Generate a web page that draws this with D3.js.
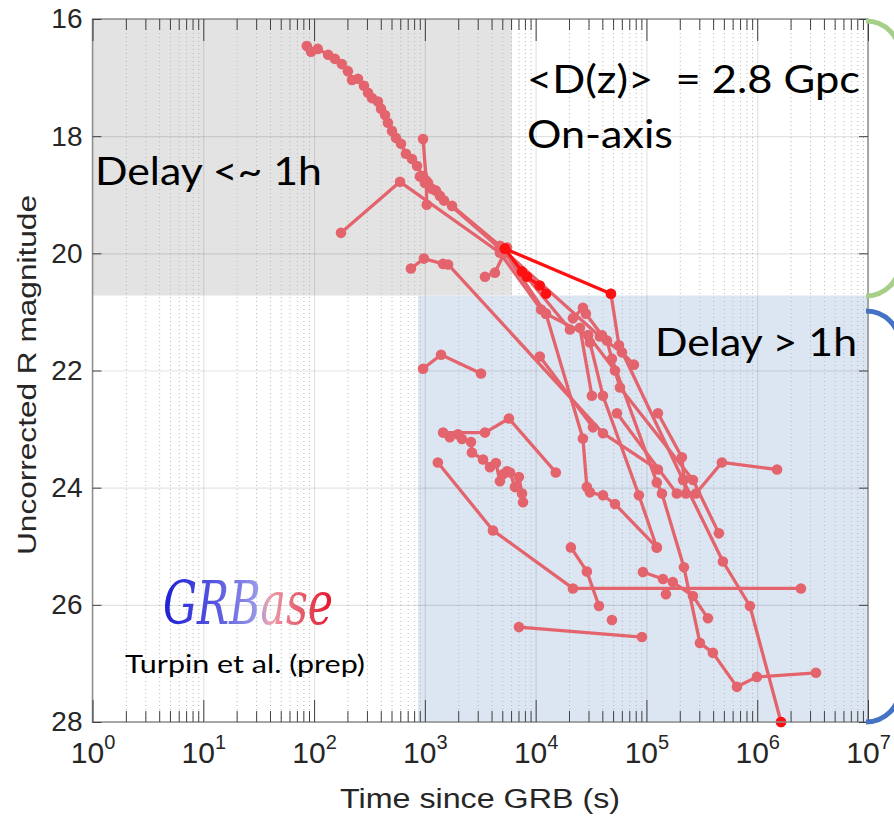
<!DOCTYPE html>
<html><head><meta charset="utf-8">
<script src="https://cdn.jsdelivr.net/npm/d3@7"></script>
<style>body{margin:0;background:#fff}</style>
</head><body><svg id="c" width="894" height="822"></svg>
<script>
// ---------- data ----------
const xTickValues = [1, 10, 100, 1e3, 1e4, 1e5, 1e6, 1e7];
const xTickExponents = ["0", "1", "2", "3", "4", "5", "6", "7"];
const yTickValues = [16, 18, 20, 22, 24, 26, 28];
const earlyRegion = [1, 6100, 16, 20.72];     // t from, t to, mag top, mag bottom
const lateRegion = [866, 1e7, 20.72, 28];

// light curves: [time since GRB (s), uncorrected R mag]
const lcA = [[86,16.46],[94,16.56],[108,16.51],[134,16.61],[154,16.68],[178,16.77],[202,16.89],[220,17.04],[249,17.02],[282,17.14],[307,17.26],[333,17.35],[377,17.41],[402,17.53],[437,17.64],[464,17.77],[505,17.91],[549,18.03],[609,18.13],[675,18.30],[765,18.39],[850,18.51],[963,18.68],[1070,18.80],[1260,18.93],[1490,19.10],[1760,19.19],[4760,19.87]];
const lcL = [[963,18.05],[1030,18.76],[1040,19.17]];
const lcB = [[175,19.65],[597,18.78],[4760,19.99],[1.12e4,20.96],[1.24e4,21.03],[2.67e4,23.16],[2.9e4,23.99],[3.09e4,24.08],[4.05e4,24.13],[5.2e4,24.28],[1.24e5,25.02]];
const lcE = [[749,20.26],[980,20.09],[1460,20.18],[1620,20.19],[4.05e4,23.07],[1.27e5,23.69]];
const lcD = [[963,21.97],[1400,21.73],[3210,22.05]];
const lcC = [[1.09e4,21.76],[3.29e4,22.97]];
const lcK2 = [[1460,23.06],[3490,23.06],[5740,22.82],[1.52e4,23.74]];
const lcK3 = [[1680,23.14],[1990,23.09],[2160,23.17],[2610,23.22],[2660,23.40],[3350,23.52],[3870,23.65],[4380,23.58],[4760,23.89],[5070,23.77],[5500,23.72],[5870,23.74],[6500,23.99],[7060,23.82],[7530,24.10],[7690,24.25]];
const lcF = [[1310,23.57],[4120,24.73],[2.17e4,25.72],[2.48e6,25.72]];
const lcG = [[2.08e4,25.02],[2.9e4,25.43],[3.73e4,26.02]];
const lcS1 = [[4.88e4,26.26]];
const lcI = [[7070,26.38],[9.11e4,26.55]];
const lcH = [[9.3e4,25.44],[1.41e5,25.56],[1.73e5,25.61],[2.63e5,25.85],[3.59e5,26.23]];
const lcP = [[2.17e4,21.11],[2.67e4,20.93],[2.84e4,21.03],[3.97e4,21.40],[4.4e4,21.49],[4.88e4,21.80],[1.24e5,23.91],[1.38e5,24.10],[2.18e5,25.36],[3.04e5,26.65],[3.98e5,26.82],[6.56e5,27.40],[9.94e5,27.23],[3.39e6,27.16]];
const lcR = [[1.27e5,22.73],[2.09e5,23.48],[2.18e5,23.86],[2.27e5,24.10],[2.8e5,24.10],[4.8e5,23.57],[1.51e6,23.69]];
const lcT = [[4.78e4,20.69],[5.65e4,21.57],[2.14e5,23.87],[4.9e5,25.26],[8.59e5,26.02],[1.64e6,28.0]];
const lcX = [[1000,18.80],[5280,19.99],[1.24e4,21.03],[2.97e4,21.40],[5.2e4,22.00],[5.77e4,22.29],[2.63e5,23.87],[4.51e5,24.78]];
const lcY = [[903,18.69],[1370,19.02],[5280,19.95],[2.04e4,21.30],[2.51e4,21.27],[3.22e4,22.43]];
const lcQ = [[2.97e4,21.40],[3.09e4,21.52],[4.05e4,22.43],[8.55e4,24.13],[1.24e5,25.02]];
const lcAA = [[1160,18.90],[4760,19.89],[3.8e4,21.42],[6.01e4,21.69],[7.71e4,21.90]];
const lcBB = [[3490,20.40],[4290,20.33],[5510,19.90]];
const lcW = [[5.42e4,22.73],[1.88e5,24.10]];
const lcS2 = [[1.5e5,25.82]];
const lcRed1 = [[5280,19.92],[4.78e4,20.69]];
const lcRed2 = [[5280,19.92],[7520,20.31],[8350,20.40],[1.09e4,20.55],[1.24e4,20.69]];
const lcRed3 = [[1.64e6,28.0]];

const pinkCurves = [lcA, lcL, lcB, lcE, lcD, lcC, lcK2, lcK3, lcF, lcG, lcS1, lcI, lcH, lcP, lcR, lcT, lcX, lcY, lcQ, lcAA, lcBB, lcW, lcS2];
const redCurves = [lcRed1, lcRed2, lcRed3];

// ---------- layout ----------
const L = 92.5, R = 868, T = 19, B = 722;
const svg = d3.select("#c");
const x = d3.scaleLog().domain([1, 1e7]).range([L, R]);
const y = d3.scaleLinear().domain([16, 28]).range([T, B]);
const minorX = [];
for (let k = 0; k < 7; k++) for (let m = 2; m <= 9; m++) minorX.push(m * Math.pow(10, k));

// shaded regions
svg.append("rect").attr("x", x(earlyRegion[0])).attr("y", y(earlyRegion[2]))
  .attr("width", x(earlyRegion[1]) - x(earlyRegion[0])).attr("height", y(earlyRegion[3]) - y(earlyRegion[2]))
  .attr("fill", "#e3e3e3");
svg.append("rect").attr("x", x(lateRegion[0])).attr("y", y(lateRegion[2]))
  .attr("width", x(lateRegion[1]) - x(lateRegion[0])).attr("height", y(lateRegion[3]) - y(lateRegion[2]))
  .attr("fill", "#dce6f2");

// grid
const gMinor = svg.append("g").attr("transform", `translate(0,${B})`)
  .call(d3.axisBottom(x).tickValues(minorX).tickSize(-(B - T)).tickFormat(""));
gMinor.select(".domain").remove();
gMinor.selectAll("line").attr("stroke", "#b8b8b8").attr("stroke-dasharray", "1,3").attr("stroke-width", 1);
const gMajX = svg.append("g").attr("transform", `translate(0,${B})`)
  .call(d3.axisBottom(x).tickValues(xTickValues).tickSize(-(B - T)).tickFormat(""));
gMajX.select(".domain").remove();
gMajX.selectAll("line").attr("stroke", "rgba(0,0,0,0.11)").attr("stroke-width", 1.2);
const gMajY = svg.append("g").attr("transform", `translate(${L},0)`)
  .call(d3.axisLeft(y).tickValues(yTickValues).tickSize(-(R - L)).tickFormat(""));
gMajY.select(".domain").remove();
gMajY.selectAll("line").attr("stroke", "rgba(0,0,0,0.11)").attr("stroke-width", 1.2);

// curves
const line = d3.line().x(d => x(d[0])).y(d => y(d[1]));
function drawCurves(list, color, w, r) {
  list.forEach(c => {
    if (c.length > 1) svg.append("path").datum(c).attr("d", line)
      .attr("fill", "none").attr("stroke", color).attr("stroke-width", w)
      .attr("stroke-linejoin", "round");
    svg.append("g").selectAll("circle").data(c).join("circle")
      .attr("cx", d => x(d[0])).attr("cy", d => y(d[1])).attr("r", r).attr("fill", color);
  });
}
drawCurves(pinkCurves, "#e4646d", 3.3, 5.3);
drawCurves(redCurves, "#ff1010", 3.3, 5.3);

// annotations
const annFont = "Lato, 'Open Sans', sans-serif";
function txt(s, xx, yy, size, len) {
  const t = svg.append("text").attr("x", xx).attr("y", yy).attr("font-family", annFont)
    .attr("font-size", size).attr("fill", "#000").text(s);
  if (len) t.attr("textLength", len).attr("lengthAdjust", "spacingAndGlyphs");
  return t;
}
txt("<D(z)> \u00a0= 2.8 Gpc", 527, 93, 38, 333);
txt("On-axis", 527, 148, 38, 146);
txt("Delay <~ 1h", 95, 185, 38, 227);
txt("Delay > 1h", 655, 356, 38, 202);
txt("Turpin et al. (prep)", 125, 673, 25, 240);

// GRBase logo (single text, gradient blue -> red)
const defs = svg.append("defs");
const grad = defs.append("linearGradient").attr("id", "gb").attr("gradientUnits", "userSpaceOnUse")
  .attr("x1", 163).attr("x2", 333).attr("y1", 0).attr("y2", 0);
[["0", "#1e1ed6"], ["0.3", "#5555e0"], ["0.56", "#9a9ae8"], ["0.62", "#eaa0ae"], ["0.8", "#e66070"], ["1", "#e3122a"]]
  .forEach(s => grad.append("stop").attr("offset", s[0]).attr("stop-color", s[1]));
svg.append("text").attr("x", 163).attr("y", 624).attr("font-family", "'DejaVu Serif', serif")
  .attr("font-style", "italic").attr("font-size", 60).attr("fill", "url(#gb)")
  .attr("textLength", 170).attr("lengthAdjust", "spacingAndGlyphs").text("GRBase");

// frame & ticks
svg.append("rect").attr("x", L).attr("y", T).attr("width", R - L).attr("height", B - T)
  .attr("fill", "none").attr("stroke", "#8f8f8f").attr("stroke-width", 1.5);
function tickAxis(axis, tr) {
  const g = svg.append("g").attr("transform", tr).call(axis);
  g.select(".domain").remove();
  g.selectAll("line").attr("stroke", "#404040").attr("stroke-width", 1);
  return g;
}
tickAxis(d3.axisBottom(x).tickValues(minorX).tickSize(-11).tickFormat(""), `translate(0,${B})`);
tickAxis(d3.axisTop(x).tickValues(minorX).tickSize(-11).tickFormat(""), `translate(0,${T})`);
tickAxis(d3.axisBottom(x).tickValues(xTickValues).tickSize(-22).tickFormat(""), `translate(0,${B})`);
tickAxis(d3.axisTop(x).tickValues(xTickValues).tickSize(-22).tickFormat(""), `translate(0,${T})`);
tickAxis(d3.axisLeft(y).tickValues(yTickValues).tickSize(-9).tickFormat(""), `translate(${L},0)`);
tickAxis(d3.axisRight(y).tickValues(yTickValues).tickSize(-9).tickFormat(""), `translate(${R},0)`);

// tick labels
const labFont = "'Liberation Sans', Arial, sans-serif";
const xl = svg.append("g").attr("transform", `translate(0,${B})`)
  .call(d3.axisBottom(x).tickValues(xTickValues).tickSize(0).tickFormat(""));
xl.select(".domain").remove();
xl.selectAll(".tick").each(function (d, i) {
  const t = d3.select(this).append("text").attr("y", 41).attr("text-anchor", "middle")
    .attr("font-family", labFont).attr("font-size", 30).attr("fill", "#262626");
  t.append("tspan").text("10");
  t.append("tspan").attr("dy", -14).attr("font-size", 20).text(xTickExponents[i]);
});
const yl = svg.append("g").attr("transform", `translate(${L},0)`)
  .call(d3.axisLeft(y).tickValues(yTickValues).tickSize(0).tickPadding(10).tickFormat(d => d));
yl.select(".domain").remove();
yl.selectAll("text").attr("font-family", labFont).attr("font-size", 28).attr("fill", "#262626");

// axis titles
svg.append("text").attr("x", 480).attr("y", 808).attr("text-anchor", "middle")
  .attr("font-family", labFont).attr("font-size", 27).attr("fill", "#262626")
  .attr("textLength", 280).attr("lengthAdjust", "spacingAndGlyphs").text("Time since GRB (s)");
svg.append("text").attr("transform", "translate(36,375) rotate(-90)").attr("text-anchor", "middle")
  .attr("font-family", labFont).attr("font-size", 25).attr("fill", "#262626")
  .attr("textLength", 360).attr("lengthAdjust", "spacingAndGlyphs").text("Uncorrected R magnitude");

// brackets on the right
svg.append("path").attr("d", "M866,21 A34,34 0 0 1 900,55 L900,262 A34,34 0 0 1 866,296")
  .attr("fill", "none").attr("stroke", "#a6d08a").attr("stroke-width", 5);
svg.append("path").attr("d", "M866,311 A34,34 0 0 1 900,345 L900,688 A34,34 0 0 1 866,722")
  .attr("fill", "none").attr("stroke", "#4472c4").attr("stroke-width", 5);
</script></body></html>
